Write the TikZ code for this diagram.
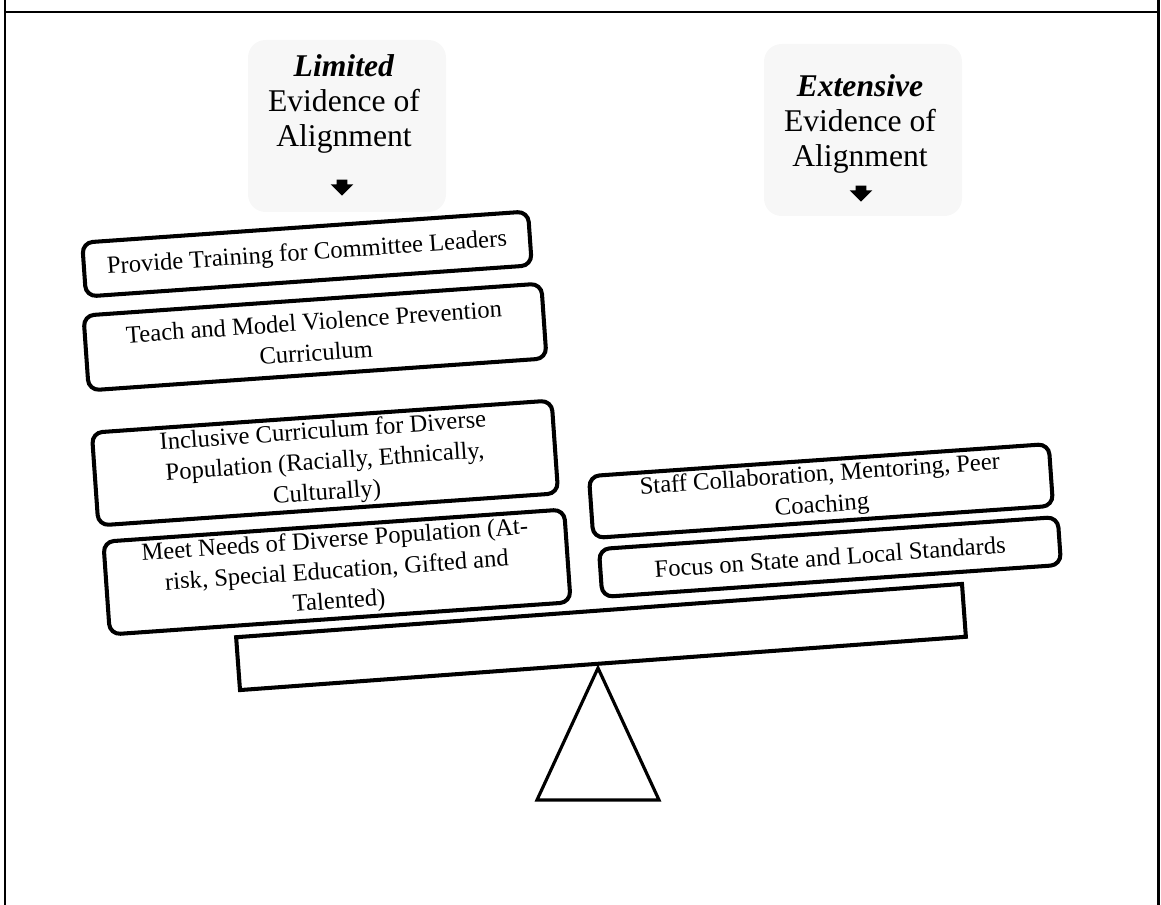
\documentclass[tikz,border=0pt]{standalone}
\usepackage{fontspec}
\setmainfont{Liberation Serif}
\usetikzlibrary{shapes.arrows}
\begin{document}
\begin{tikzpicture}[x=0.02cm,y=-0.02cm,
  item/.style={draw, line width=2.3pt, rounded corners=6pt, rotate=4, align=center,
    font=\fontsize{14}{16.5}\selectfont, inner xsep=2pt, inner ysep=0pt},
  head/.style={align=center, font=\fontsize{18}{20}\selectfont, inner sep=0pt},
  headbg/.style={fill=black!3, rounded corners=10pt},
  darrow/.style={single arrow, fill=black, draw=none, shape border rotate=270,
    minimum height=9pt, inner sep=2.85pt, single arrow head extend=3.4pt,
    single arrow head indent=0pt},
  frameline/.style={line width=1.7pt},
  beamstyle/.style={draw, line width=2.3pt, rotate=4.2, minimum width=14.56cm, minimum height=1.06cm},
  fulcrum/.style={draw, line width=1.8pt, line join=miter}
]
\useasboundingbox (0,0) rectangle (1161,905);
% frame
\draw[frameline] (5,0) -- (5,905) (1158,0) -- (1158,905) (5,12) -- (1158,12);
% heading backgrounds
\fill[headbg] (248,40) rectangle (446,212);
\fill[headbg] (764,44) rectangle (962,216);
% headings
\node[head] (hl) at (344,104) {\textbf{\textit{Limited}}\\Evidence of\\Alignment};
\node[darrow] (al) at (342,185) {};
\node[head] (hr) at (860,124) {\textbf{\textit{Extensive}}\\Evidence of\\Alignment};
\node[darrow] (ar) at (861,191) {};
% left boxes
\node[item, minimum width=8.94cm, minimum height=1.08cm] (b1) at (307,254)
  {Provide Training for Committee Leaders};
\node[item, minimum width=9.18cm, minimum height=1.5cm] (b2) at (315,337)
  {Teach and Model Violence Prevention\\[1pt]Curriculum};
\node[item, minimum width=9.22cm, minimum height=1.86cm] (b3) at (325,463)
  {Inclusive Curriculum for Diverse\\[1pt]Population (Racially, Ethnically,\\[1pt]Culturally)};
\node[item, minimum width=9.24cm, minimum height=1.86cm] (b4) at (337,572)
  {Meet Needs of Diverse Population (At-\\[1pt]risk, Special Education, Gifted and\\[1pt]Talented)};
% right boxes
\node[item, minimum width=9.22cm, minimum height=1.24cm] (b5) at (821,491)
  {Staff Collaboration, Mentoring, Peer\\[1pt]Coaching};
\node[item, minimum width=9.2cm, minimum height=0.96cm] (b6) at (830,557)
  {Focus on State and Local Standards};
% beam and fulcrum
\node[beamstyle] (beam) at (601,637) {};
\coordinate (apex) at (598,668);
\coordinate (bl) at (537,800);
\coordinate (br) at (659,800);
\draw[fulcrum] (apex) -- (br) -- (bl) -- cycle;
\end{tikzpicture}
\end{document}
